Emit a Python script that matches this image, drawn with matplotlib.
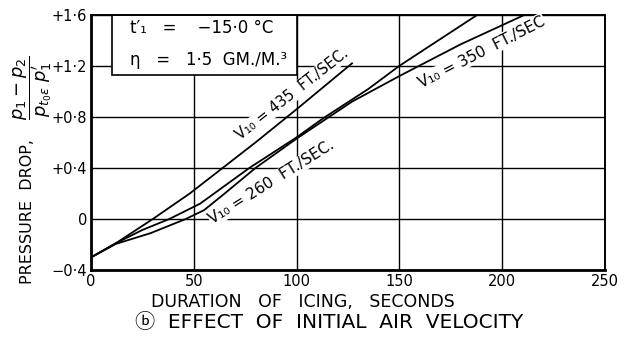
import matplotlib
matplotlib.use("Agg")
import matplotlib.pyplot as plt
from matplotlib.patches import Rectangle

# Data
x_435 = [0, 12, 30, 48, 64, 80, 100, 127]
y_435 = [-0.30, -0.19, 0.00, 0.20, 0.40, 0.60, 0.86, 1.22]

x_mid = [0, 12, 25, 38, 53, 77, 100, 113, 135, 150, 188]
y_mid = [-0.30, -0.19, -0.085, 0.00, 0.12, 0.40, 0.64, 0.79, 1.02, 1.20, 1.60]

x_low = [0, 12, 20, 29, 46, 55, 65, 80, 100, 127, 150, 180, 211]
y_low = [-0.30, -0.195, -0.155, -0.11, 0.00, 0.07, 0.20, 0.40, 0.63, 0.92, 1.12, 1.37, 1.60]

xticks = [0, 50, 100, 150, 200, 250]
xticklabels = ["0", "50", "100", "150", "200", "250"]
yticks = [-0.4, 0.0, 0.4, 0.8, 1.2, 1.6]
yticklabels = ["\u22120·4", "0", "+0·4", "+0·8", "+1·2", "+1·6"]

plt.rcParams['font.family'] = ['DejaVu Sans', 'Noto Sans CJK JP']

fig = plt.figure(figsize=(6.28, 3.45), dpi=100)
ax = fig.add_axes([0.145, 0.217, 0.818, 0.740])
ax.set_xlim(0, 250)
ax.set_ylim(-0.4, 1.6)
ax.set_xticks(xticks)
ax.set_xticklabels(xticklabels, fontsize=10.5)
ax.set_yticks(yticks)
ax.set_yticklabels(yticklabels, fontsize=10.5)
ax.tick_params(length=0, pad=3)
ax.grid(True, color='black', lw=1.0, zorder=1)
ax.set_axisbelow(True)
for s in ax.spines.values():
    s.set_linewidth(1.4)
ax.spines['left'].set_linewidth(2.0)
ax.spines['bottom'].set_linewidth(2.0)

lw = 1.3
ax.plot(x_435, y_435, color='black', lw=lw, zorder=5)
ax.plot(x_mid, y_mid, color='black', lw=lw, zorder=5)
ax.plot(x_low, y_low, color='black', lw=lw, zorder=5)

# condition box
ax.add_patch(Rectangle((10, 1.125), 90, 0.5, facecolor='white', edgecolor='black',
                       lw=1.2, zorder=2, clip_on=True))
ax.text(19, 1.50, "t\u2032\u2081   =    \u221215·0 °C", fontsize=12, va='center', ha='left', zorder=4)
ax.text(19, 1.25, "\u03b7   =   1·5  GM./M.\u00b3", fontsize=12, va='center', ha='left', zorder=4)

bbox = dict(facecolor='white', edgecolor='none', pad=0.5)
ax.text(98, 0.98, "V\u2081\u2080 = 435  FT./SEC.", rotation=38, fontsize=10.5,
        ha='center', va='center', zorder=4, bbox=bbox, rotation_mode='anchor')
ax.text(88, 0.29, "V\u2081\u2080 = 260  FT./SEC.", rotation=32, fontsize=11,
        ha='center', va='center', zorder=4, bbox=bbox, rotation_mode='anchor')
ax.text(190, 1.31, "V\u2081\u2080 = 350  FT./SEC", rotation=27, fontsize=11,
        ha='center', va='center', zorder=4, bbox=bbox, rotation_mode='anchor')

fig.text(303/628, 1 - 302/345, "DURATION   OF   ICING,   SECONDS", fontsize=12.5,
         ha='center', va='center')
fig.text(329/628, 1 - 323/345, "\u24d1  EFFECT  OF  INITIAL  AIR  VELOCITY", fontsize=14.5,
         ha='center', va='center')
fig.text(27/628, 1 - 212/345, "PRESSURE  DROP,", fontsize=11.5, rotation=90,
         ha='center', va='center')
fig.text(33/628, 1 - 88/345, r"$\dfrac{p_1 - p_2}{p_{t_0\epsilon}\ p_1'}$",
         fontsize=13, rotation=90, ha='center', va='center')

fig.savefig("out.png", dpi=100)
